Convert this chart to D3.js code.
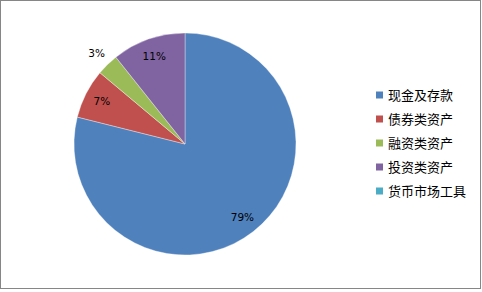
<!DOCTYPE html>
<html>
<head>
<meta charset="utf-8">
<script src="https://cdn.jsdelivr.net/npm/d3@7"></script>
<style>
  html, body { margin: 0; padding: 0; background: #fff; }
  svg { display: block; }
</style>
</head>
<body>
<div id="chart"></div>
<script>
// asset mix pie, Excel 2007 style
const categories = ["现金及存款", "债券类资产", "融资类资产", "投资类资产", "货币市场工具"];
const shares = [78.9, 7.2, 3.2, 10.7, 0.0];
const labels = ["79%", "7%", "3%", "11%", ""];
const colors = ["#4F81BD", "#C0504D", "#9BBB59", "#8064A2", "#4BACC6"];

const width = 482, height = 292;
const cx = 185, cy = 144, radius = 111;

const svg = d3.select("#chart").append("svg")
    .attr("width", width)
    .attr("height", height);

// outer chart border
svg.append("rect")
    .attr("x", 0.5).attr("y", 0.5)
    .attr("width", 480).attr("height", 288)
    .attr("fill", "#fff")
    .attr("stroke", "#868686")
    .attr("stroke-width", 1);

const rows = categories.map((c, i) => ({name: c, value: shares[i], label: labels[i], color: colors[i]}));

const pie = d3.pie()
    .sort(null)
    .value(d => d.value);

const arc = d3.arc().innerRadius(0).outerRadius(radius);

const g = svg.append("g").attr("transform", `translate(${cx},${cy})`);
const arcs = pie(rows);

g.selectAll("path")
    .data(arcs.filter(d => d.data.value > 0))
    .enter().append("path")
    .attr("d", arc)
    .attr("fill", d => d.data.color)
    .attr("stroke", "#fff")
    .attr("stroke-opacity", 0.5)
    .attr("stroke-width", 0.7);

// inside labels for big slices, outside for tiny ones
const inArc = d3.arc().innerRadius(radius * 0.84).outerRadius(radius * 0.84);
const outArc = d3.arc().innerRadius(radius * 1.14).outerRadius(radius * 1.14);

g.selectAll("text.pct")
    .data(arcs.filter(d => d.data.value > 0))
    .enter().append("text")
    .attr("class", "pct")
    .attr("transform", d => `translate(${(d.data.value < 5 ? outArc : inArc).centroid(d)})`)
    .attr("text-anchor", "middle")
    .attr("dy", "0.35em")
    .attr("font-family", "DejaVu Sans, Verdana, sans-serif")
    .attr("font-size", "10.5px")
    .attr("fill", "#000")
    .text(d => d.data.label);

// legend
const legY = d3.scalePoint()
    .domain(categories)
    .range([95, 191]);

const legend = svg.append("g").attr("class", "legend");
const item = legend.selectAll("g")
    .data(rows)
    .enter().append("g")
    .attr("transform", d => `translate(376,${legY(d.name)})`);

item.append("rect")
    .attr("x", 0).attr("y", -3.5)
    .attr("width", 7).attr("height", 7)
    .attr("fill", d => d.color);

item.append("text")
    .attr("x", 12)
    .attr("dy", "0.36em")
    .attr("font-family", "Noto Sans CJK SC, sans-serif")
    .attr("font-size", "13px")
    .attr("fill", "#000")
    .text(d => d.name);
</script>
</body>
</html>
